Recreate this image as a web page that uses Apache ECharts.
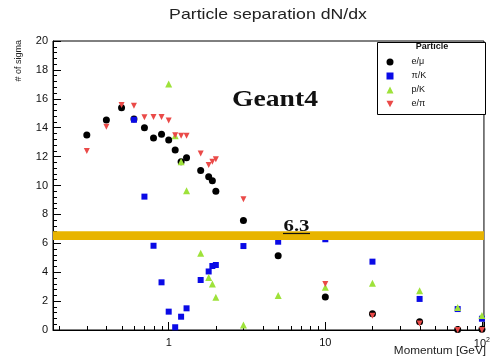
<!DOCTYPE html>
<html><head><meta charset="utf-8">
<script src="https://cdn.jsdelivr.net/npm/echarts@6/dist/echarts.min.js"></script>
<style>html,body{margin:0;padding:0;background:#fff}#c{width:493px;height:357px}</style>
</head><body><div id="c"></div>
<script>
// ---- data ----
const seriesNames = ['e/μ', 'π/K', 'p/K', 'e/π'];

const xEMu = [0.3, 0.4, 0.5, 0.6, 0.7, 0.8, 0.9, 1.0, 1.1, 1.2, 1.3, 1.6, 1.8, 1.9, 2.0, 3, 5, 10, 20, 40, 70, 100];
const yEMu = [13.5, 14.53, 15.38, 14.6, 14.0, 13.28, 13.55, 13.15, 12.46, 11.65, 11.92, 11.03, 10.61, 10.33, 9.6, 7.58, 5.14, 2.28, 1.12, 0.57, 0.03, 0.05];

const xPiK = [0.6, 0.7, 0.8, 0.9, 1.0, 1.1, 1.2, 1.3, 1.6, 1.8, 1.9, 2.0, 3, 5, 10, 20, 40, 70, 100];
const yPiK = [14.55, 9.23, 5.83, 3.3, 1.27, 0.19, 0.92, 1.5, 3.46, 4.05, 4.43, 4.5, 5.81, 6.11, 6.28, 4.73, 2.15, 1.45, 0.78];

const xPK = [1.0, 1.1, 1.2, 1.3, 1.6, 1.8, 1.9, 2.0, 3, 5, 10, 20, 40, 70, 100];
const yPK = [17.02, 13.45, 11.65, 9.64, 5.31, 3.63, 3.18, 2.26, 0.35, 2.38, 2.95, 3.23, 2.72, 1.55, 1.0];

const xEPi = [0.3, 0.4, 0.5, 0.6, 0.7, 0.8, 0.9, 1.0, 1.1, 1.2, 1.3, 1.6, 1.8, 1.9, 2.0, 3, 5, 10, 20, 40, 70, 100];
const yEPi = [12.39, 14.07, 15.57, 15.52, 14.72, 14.74, 14.74, 14.49, 13.47, 13.45, 13.45, 12.22, 11.42, 11.65, 11.81, 9.04, 6.5, 3.18, 0.98, 0.45, 0.0, 0.0];

const xMinorTicks = [0.2, 0.3, 0.4, 0.5, 0.6, 0.7, 0.8, 0.9, 2, 3, 4, 5, 6, 7, 8, 9, 20, 30, 40, 50, 60, 70, 80, 90];
const xRange = [0.1825, 103];
const yRange = [0, 20];
const yStep = 2;
const bandRange = [6.23, 6.83];
const bandLabel = '6.3';
const titleText = 'Particle separation dN/dx';
const xTitle = 'Momentum [GeV]';
const yTitle = '# of sigma';
const legendTitle = 'Particle';
const watermark = 'Geant4';

const pairs = (xs, ys) => xs.map((x, i) => [x, ys[i]]);

const colors = ['#000000', '#0a0ae6', '#9ee23a', '#ea4a48'];
const symbols = ['circle', 'rect', 'triangle', 'path://M0,0L10,0L5,9Z'];
const sizes = [7, 6, 7, 6];
const datasets = [pairs(xEMu, yEMu), pairs(xPiK, yPiK), pairs(xPK, yPK), pairs(xEPi, yEPi)];

const FONT = '"Liberation Sans", Arial, Helvetica, sans-serif';
const SERIF = '"Liberation Serif", "Times New Roman", serif';

const chart = echarts.init(document.getElementById('c'), null, {renderer: 'canvas'});

const dataSeries = seriesNames.map((n, i) => ({
  name: n,
  type: 'scatter',
  data: datasets[i],
  symbol: symbols[i],
  symbolSize: sizes[i],
  itemStyle: {color: colors[i], opacity: 1},
  clip: false,
  z: 4,
  emphasis: {disabled: true}
}));

const option = {
  animation: false,
  backgroundColor: '#ffffff',
  grid: {left: 53, right: 8, top: 41, bottom: 27, show: true, borderColor: '#000', borderWidth: 1, backgroundColor: 'transparent'},
  xAxis: {
    type: 'log', logBase: 10, min: xRange[0], max: xRange[1],
    axisLine: {show: true, lineStyle: {color: '#000', width: 1}},
    axisTick: {show: true, inside: true, length: 8, lineStyle: {color: '#000'}},
    splitLine: {show: false},
    axisLabel: {
      margin: 7, color: '#111', fontFamily: FONT, fontSize: 11,
      formatter: function (v) {
        const l = Math.log10(v);
        if (Math.abs(l - Math.round(l)) > 1e-6) return '';
        const e = Math.round(l);
        if (e === 0) return '1';
        if (e === 1) return '10';
        if (e === 2) return '{b|10}{s|2}';
        return '';
      },
      rich: {b: {fontSize: 11, fontFamily: FONT, color: '#111'}, s: {fontSize: 7, fontFamily: FONT, color: '#111', verticalAlign: 'top', padding: [0, 0, 7, 0]}}
    }
  },
  yAxis: {
    type: 'value', min: yRange[0], max: yRange[1], interval: yStep,
    axisLine: {show: true, lineStyle: {color: '#000', width: 1}},
    axisTick: {show: true, inside: true, length: 8, lineStyle: {color: '#000'}},
    minorTick: {show: true, splitNumber: 5, length: 4, lineStyle: {color: '#000'}},
    splitLine: {show: false},
    axisLabel: {margin: 5, color: '#111', fontFamily: FONT, fontSize: 11}
  },
  legend: {
    data: seriesNames.map((n, i) => ({name: n, icon: symbols[i], itemStyle: {color: colors[i]}})),
    orient: 'vertical', left: 386.5, top: 57, padding: 0,
    itemWidth: 7, itemHeight: 7, itemGap: 4,
    selectedMode: false, z: 20,
    textStyle: {fontFamily: FONT, fontSize: 9, color: '#111', lineHeight: 10, padding: [0, 0, 0, 13]}
  },
  graphic: [
    {type: 'rect', z: 15, shape: {x: 377.5, y: 42.5, width: 108, height: 72}, style: {fill: '#fff', stroke: '#000', lineWidth: 1}},
    {type: 'text', z: 16, x: 432, y: 47, style: {text: legendTitle, fontFamily: FONT, fontWeight: 'bold', fontSize: 9, fill: '#111', textAlign: 'center', textVerticalAlign: 'middle'}},
    {type: 'text', z: 16, x: 268, y: 15, scaleX: 1.18, style: {text: titleText, fontFamily: FONT, fontSize: 15, fill: '#222', textAlign: 'center', textVerticalAlign: 'middle'}},
    {type: 'text', z: 16, x: 486, y: 351, scaleX: 1.12, style: {text: xTitle, fontFamily: FONT, fontSize: 10.5, fill: '#222', textAlign: 'right', textVerticalAlign: 'middle'}},
    {type: 'text', z: 16, x: 19, y: 40, rotation: Math.PI / 2, style: {text: yTitle, fontFamily: FONT, fontSize: 9, fill: '#222', textAlign: 'right', textVerticalAlign: 'middle'}},
    {type: 'text', z: 16, x: 275, y: 100, scaleX: 1.15, style: {text: watermark, fontFamily: SERIF, fontWeight: 'bold', fontSize: 24, fill: '#111', textAlign: 'center', textVerticalAlign: 'middle'}},
    {type: 'text', z: 16, x: 296.5, y: 227, scaleX: 1.3, style: {text: bandLabel, fontFamily: SERIF, fontWeight: 'bold', fontSize: 16, fill: '#111', textAlign: 'center', textVerticalAlign: 'middle'}},
    {type: 'line', z: 16, shape: {x1: 283, y1: 233.5, x2: 310, y2: 233.5}, style: {stroke: '#111', lineWidth: 1.2}}
  ],
  series: [
    {
      name: 'minorTicks', type: 'custom', data: xMinorTicks.map(x => [x, 0]),
      silent: true, clip: false, z: 3,
      renderItem: function (params, api) {
        const p = api.coord([api.value(0), api.value(1)]);
        const x = Math.round(p[0]) + 0.5;
        return {type: 'line', shape: {x1: x, y1: p[1], x2: x, y2: p[1] - 4}, style: {stroke: '#000', lineWidth: 1}};
      }
    },
    ...dataSeries,
    {
      name: 'band', type: 'scatter', data: [], z: 10, silent: true,
      markArea: {silent: true, z: 10, itemStyle: {color: '#e8b400', opacity: 1}, label: {show: false},
        data: [[{yAxis: bandRange[0]}, {yAxis: bandRange[1]}]]}
    }
  ]
};
chart.setOption(option);
</script></body></html>
